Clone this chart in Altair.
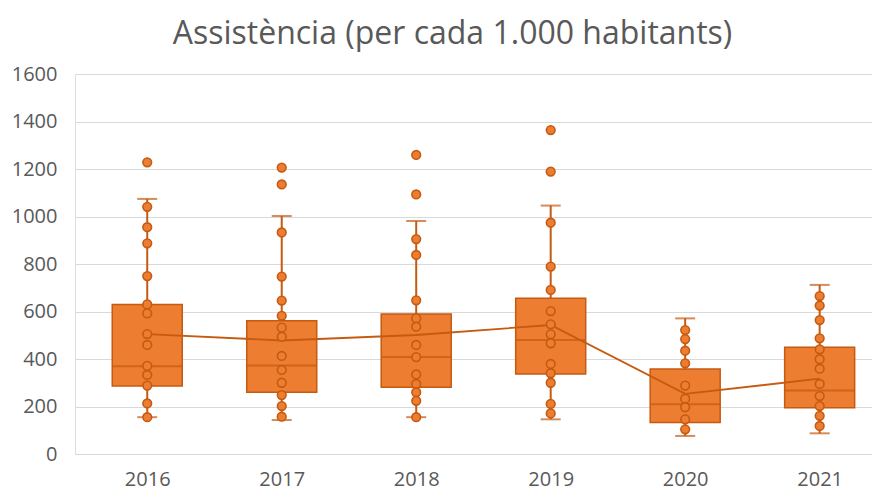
import altair as alt
import pandas as pd

years = [2016, 2017, 2018, 2019, 2020, 2021]
q1 = [286, 260, 281, 337, 133, 195]
median = [370, 373, 408, 480, 210, 267]
q3 = [630, 561, 589, 656, 358, 449]
whisker_low = [155, 143, 155, 146, 76, 87]
whisker_high = [1074, 1002, 981, 1046, 571, 712]
mean = [505, 478, 501, 543, 253, 317]

points_2016 = [1228, 1041, 955, 887, 749, 630, 592, 505, 459, 371, 333, 288, 213, 155]
points_2017 = [1206, 1135, 933, 747, 646, 582, 532, 494, 413, 354, 300, 248, 202, 157]
points_2018 = [1259, 1093, 905, 838, 647, 571, 536, 459, 408, 335, 295, 260, 224, 155]
points_2019 = [1364, 1189, 974, 789, 691, 602, 546, 504, 466, 379, 340, 300, 211, 171]
points_2020 = [522, 484, 435, 382, 288, 233, 197, 146, 104]
points_2021 = [665, 625, 564, 487, 441, 399, 359, 295, 244, 202, 161, 118]

all_points = [points_2016, points_2017, points_2018, points_2019, points_2020, points_2021]

stats = pd.DataFrame({
    "year": years, "q1": q1, "median": median, "q3": q3,
    "wlo": whisker_low, "whi": whisker_high, "mean": mean,
})
pts = pd.DataFrame(
    [{"year": y, "value": v} for y, vals in zip(years, all_points) for v in vals]
)

FILL = "#ED7D31"
DARK = "#C55A11"
TXT = "#595959"

xscale = alt.Scale(domain=[2015.5, 2021.352], nice=False, zero=False)
yscale = alt.Scale(domain=[0, 1600], nice=False)

xenc = alt.X("year:Q", scale=xscale,
             axis=alt.Axis(values=years, format="d", title=None, grid=False,
                           domain=False, ticks=False, labelFontSize=20,
                           labelColor=TXT, labelPadding=15, labelFont="Open Sans"))
yenc_axis = alt.Axis(values=list(range(0, 1601, 200)), format="d", title=None, grid=True,
                     gridColor="#D9D9D9", gridWidth=1, domain=False, ticks=False,
                     labelFontSize=20, labelColor=TXT, labelPadding=18,
                     labelFont="Open Sans")

base = alt.Chart(stats)

whiskers = base.mark_rule(color=DARK, strokeWidth=2).encode(
    x=xenc,
    y=alt.Y("wlo:Q", scale=yscale, axis=yenc_axis),
    y2="whi:Q",
)
caps_lo = base.mark_tick(orient="horizontal", size=20, thickness=2, color=DARK).encode(
    x=alt.X("year:Q", scale=xscale), y=alt.Y("wlo:Q", scale=yscale))
caps_hi = base.mark_tick(orient="horizontal", size=20, thickness=2, color=DARK).encode(
    x=alt.X("year:Q", scale=xscale), y=alt.Y("whi:Q", scale=yscale))
boxes = base.mark_bar(size=70, color=FILL, stroke=DARK, strokeWidth=1.5).encode(
    x=alt.X("year:Q", scale=xscale), y=alt.Y("q1:Q", scale=yscale), y2="q3:Q")
medians = base.mark_tick(orient="horizontal", size=70, thickness=2, color=DARK).encode(
    x=alt.X("year:Q", scale=xscale), y=alt.Y("median:Q", scale=yscale))
mean_line = base.mark_line(color=DARK, strokeWidth=1.8).encode(
    x=alt.X("year:Q", scale=xscale), y=alt.Y("mean:Q", scale=yscale))
dots = alt.Chart(pts).mark_point(filled=True, shape="circle", size=75, fill=FILL,
                                 stroke=DARK, strokeWidth=1.6, opacity=1).encode(
    x=alt.X("year:Q", scale=xscale), y=alt.Y("value:Q", scale=yscale))

chart = alt.layer(whiskers, caps_lo, caps_hi, boxes, medians, mean_line, dots).properties(
    width=797, height=380,
    autosize=alt.AutoSizeParams(type="none"),
    padding={"left": 67, "top": 66, "right": 0, "bottom": 36},
    title=alt.TitleParams("Assistència (per cada 1.000 habitants)", fontSize=32,
                          font="Open Sans", fontWeight="normal", color=TXT,
                          anchor="middle", dx=-21, offset=13),
).configure_view(stroke=None).configure(background="white")

chart.save("out.html", embed_options={"renderer": "svg", "actions": False})
